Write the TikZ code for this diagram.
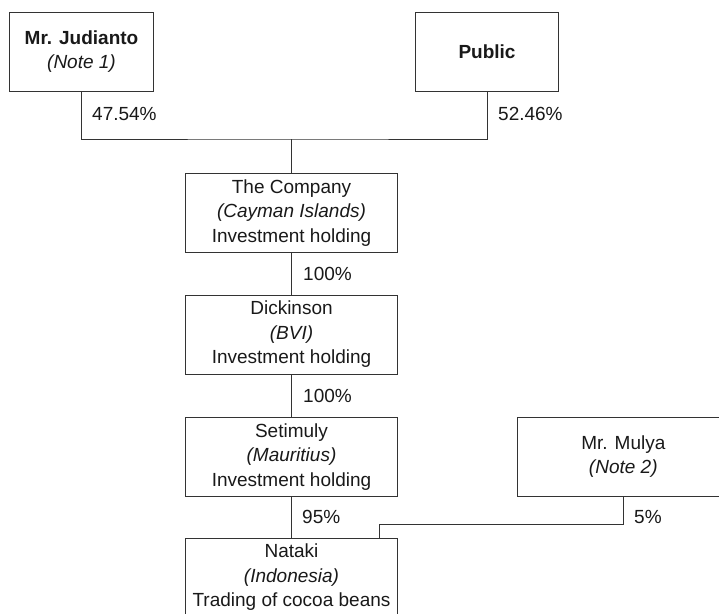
\documentclass[tikz,border=0pt]{standalone}
\usepackage{fontspec}
\setmainfont{Liberation Sans}
\begin{document}
\begin{tikzpicture}[x=1pt,y=-1pt,
  ent/.style={draw=black!80, line width=0.9pt, rectangle, inner sep=0pt,
    minimum height=79pt, text=black!90, align=center,
    font=\fontsize{19}{24.5}\selectfont},
  wide/.style={minimum width=212.4pt},
  narrow/.style={minimum width=143.5pt},
  pct/.style={anchor=west, inner sep=0pt, text=black!90,
    font=\fontsize{19}{24.5}\selectfont},
  link/.style={draw=black!80, line width=0.9pt}]
\useasboundingbox (0,0) rectangle (719,613);
\clip (0,0) rectangle (719,613);
\node[ent,narrow] (jud) at (81.5,51.5) {\textbf{Mr. Judianto}\\\textit{(Note 1)}};
\node[ent,narrow] (pub) at (487,51.5) {\textbf{Public}};
\node[ent,wide] (comp) at (291.5,212.8) {The Company\\\textit{(Cayman Islands)}\\Investment holding};
\node[ent,wide] (dick) at (291.5,334.5) {Dickinson\\\textit{(BVI)}\\Investment holding};
\node[ent,wide] (seti) at (291.5,456.7) {Setimuly\\\textit{(Mauritius)}\\Investment holding};
\node[ent,wide] (nat) at (291.5,577.5) {Nataki\\\textit{(Indonesia)}\\Trading of cocoa beans};
\node[ent,wide] (mul) at (623.3,456.5) {Mr. Mulya\\\textit{(Note 2)}};
\coordinate (join) at (291.5,139);
\coordinate (mj) at (379,524.3);
\draw[link] (jud.south) |- (join) -| (pub.south);
\draw[link] (join) -- (comp.north);
\draw[link] (comp.south) -- (dick.north);
\draw[link] (dick.south) -- (seti.north);
\draw[link] (seti.south) -- (nat.north);
\draw[link] (mul.south) |- (mj) -- (mj |- nat.north);
\node[pct] (p1) at (92,113.5) {47.54\%};
\node[pct] (p2) at (498,113.5) {52.46\%};
\node[pct] (p3) at (303,274) {100\%};
\node[pct] (p4) at (303,395.5) {100\%};
\node[pct] (p5) at (302,517) {95\%};
\node[pct] (p6) at (634,517) {5\%};
\end{tikzpicture}
\end{document}
